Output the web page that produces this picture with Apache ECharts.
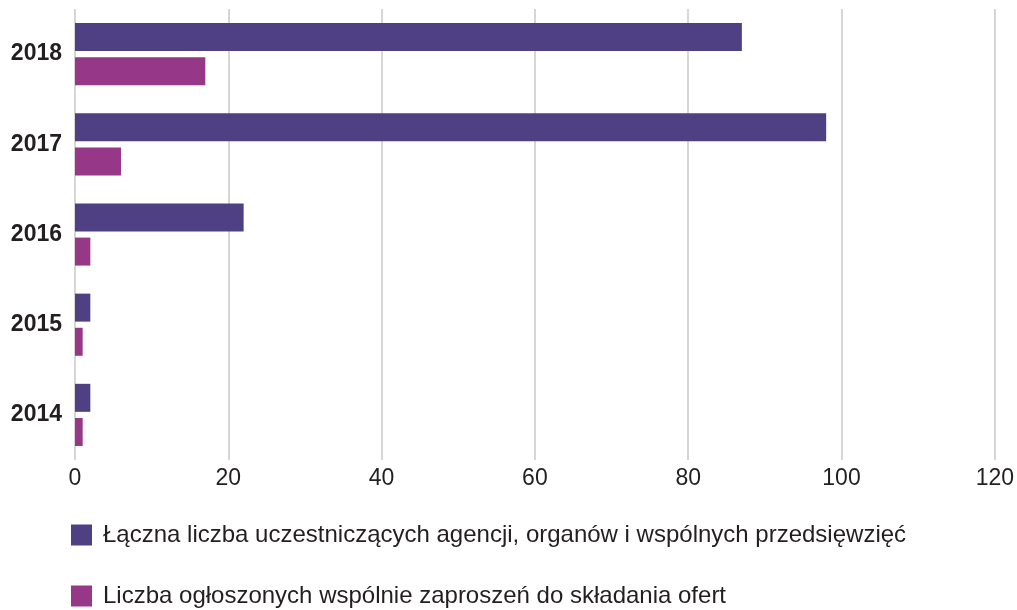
<!DOCTYPE html>
<html>
<head>
<meta charset="utf-8">
<script src="https://cdn.jsdelivr.net/npm/echarts@6/dist/echarts.min.js"></script>
<style>
html,body{margin:0;padding:0;background:#fff;}
#chart{width:1017px;height:610px;}
</style>
</head>
<body>
<div id="chart"></div>
<script>
const years = ['2018', '2017', '2016', '2015', '2014'];
const participants = [87, 98, 22, 2, 2];
const jointCalls = [17, 6, 2, 1, 1];
const seriesNames = [
  'Łączna liczba uczestniczących agencji, organów i wspólnych przedsięwzięć',
  'Liczba ogłoszonych wspólnie zaproszeń do składania ofert'
];
const xTicks = { min: 0, max: 120, interval: 20 };

const chart = echarts.init(document.getElementById('chart'), null, { renderer: 'canvas' });
const font = 'Liberation Sans, Arial, Helvetica, sans-serif';
const legendBase = {
  orient: 'horizontal',
  left: 71,
  padding: 0,
  itemWidth: 21,
  itemHeight: 21,
  icon: 'rect',
  textStyle: { fontFamily: font, fontSize: 24, color: '#231f20', padding: [0, 0, 0, 6] }
};
chart.setOption({
  animation: false,
  backgroundColor: '#ffffff',
  textStyle: { fontFamily: font, color: '#231f20' },
  grid: { left: 75, right: 20, top: 9, bottom: 150, containLabel: false },
  legend: [
    Object.assign({}, legendBase, { top: 523, data: [seriesNames[0]] }),
    Object.assign({}, legendBase, { top: 584, data: [seriesNames[1]] })
  ],
  xAxis: {
    type: 'value',
    min: xTicks.min,
    max: xTicks.max,
    interval: xTicks.interval,
    axisLine: { show: false },
    axisTick: { show: false },
    splitLine: { show: true, lineStyle: { color: '#d6d6d6', width: 2 } },
    axisLabel: { fontFamily: font, fontSize: 23, color: '#231f20', margin: 7 }
  },
  yAxis: {
    type: 'category',
    inverse: true,
    data: years,
    axisLine: { show: false },
    axisTick: { show: false },
    axisLabel: { fontFamily: font, fontSize: 23, fontWeight: 'bold', color: '#231f20', margin: 13 }
  },
  series: [
    {
      name: seriesNames[0],
      type: 'bar',
      data: participants,
      barWidth: 28,
      barGap: '22%',
      itemStyle: { color: '#4f4083' }
    },
    {
      name: seriesNames[1],
      type: 'bar',
      data: jointCalls,
      barWidth: 28,
      barGap: '22%',
      itemStyle: { color: '#963787' }
    }
  ]
});
</script>
</body>
</html>
